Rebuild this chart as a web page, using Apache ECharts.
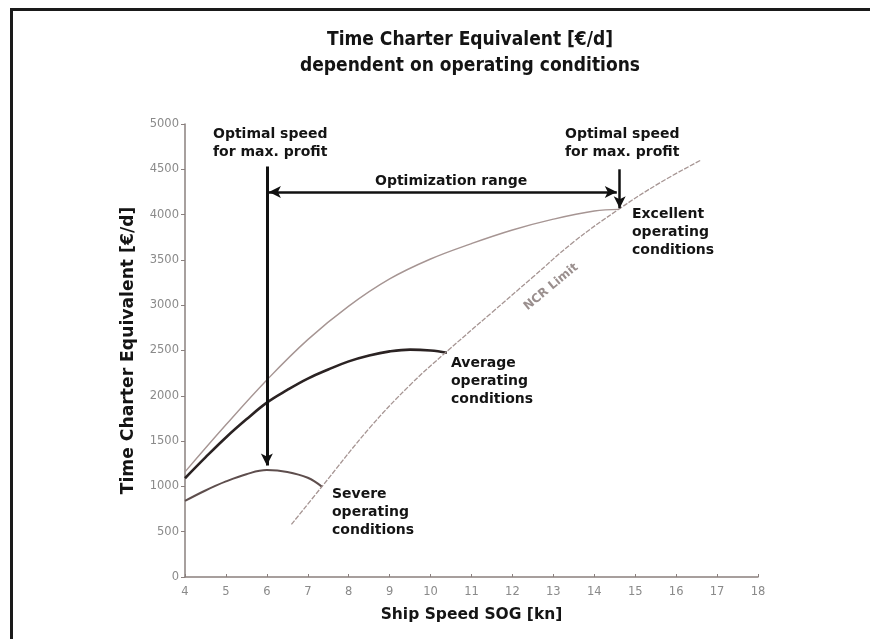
<!DOCTYPE html>
<html>
<head>
<meta charset="utf-8">
<title>Time Charter Equivalent</title>
<script src="https://cdn.jsdelivr.net/npm/echarts@6/dist/echarts.min.js"></script>
<style>
  html, body { margin: 0; padding: 0; background: #fff; }
  #chart { width: 870px; height: 639px; }
</style>
</head>
<body>
<div id="chart"></div>
<script>
// Ship speed over ground [kn] / time charter equivalent [€/d]
const xTicks = [4, 5, 6, 7, 8, 9, 10, 11, 12, 13, 14, 15, 16, 17, 18];
const yTicks = [0, 500, 1000, 1500, 2000, 2500, 3000, 3500, 4000, 4500, 5000];

// Excellent operating conditions
const excellentSpeed = [4, 5, 6, 7, 8, 9, 10, 11, 12, 13, 14, 14.6];
const excellentTce   = [1160, 1680, 2175, 2620, 2990, 3290, 3510, 3680, 3830, 3950, 4040, 4058];

// Average operating conditions
const averageSpeed = [4, 4.5, 5, 5.5, 6, 6.5, 7, 7.5, 8, 8.5, 9, 9.5, 10, 10.4];
const averageTce   = [1090, 1320, 1540, 1740, 1925, 2065, 2190, 2290, 2380, 2445, 2490, 2510, 2500, 2475];

// Severe operating conditions
const severeSpeed = [4, 4.5, 5, 5.5, 6, 6.5, 7, 7.35];
const severeTce   = [840, 955, 1055, 1135, 1180, 1160, 1095, 995];

// NCR limit
const ncrSpeed = [6.6, 7.35, 8.5, 9.5, 10.4, 11.5, 12.5, 13.5, 14.6, 15.6, 16.6];
const ncrTce   = [580, 1000, 1640, 2120, 2490, 2920, 3310, 3700, 4060, 4350, 4600];

// Annotation arrows: [fromSpeed, fromTce, toSpeed, toTce, doubleHeaded]
const arrowLowOptimum  = [6, 4530, 6, 1230, false];
const arrowHighOptimum = [14.62, 4500, 14.62, 4070, false];
const arrowRange       = [6.05, 4250, 14.55, 4250, true];

const zip = (xs, ys) => xs.map((x, i) => [x, ys[i]]);

const labelFont = 'DejaVu Sans';
const textStyle = (extra) => Object.assign({
  fontFamily: labelFont, fontWeight: 'bold', fontSize: 14, fill: '#141414', lineHeight: 18
}, extra || {});

const arrowLine = (a, width) => [
  { coord: [a[0], a[1]], symbol: a[4] ? 'arrow' : 'none' },
  { coord: [a[2], a[3]], symbol: 'arrow', lineStyle: { width: width } }
];

const chart = echarts.init(document.getElementById('chart'), null, { renderer: 'canvas' });

chart.setOption({
  backgroundColor: '#ffffff',
  animation: false,
  title: {
    text: 'Time Charter Equivalent [€/d]\ndependent on operating conditions',
    left: 465,
    top: 22,
    textAlign: 'center',
    textStyle: {
      fontFamily: 'DejaVu Sans Condensed', fontWeight: 'bold', fontSize: 19,
      lineHeight: 26, color: '#141414'
    }
  },
  grid: { left: 185, right: 112, top: 124, bottom: 62, containLabel: false },
  xAxis: {
    type: 'value',
    min: xTicks[0], max: xTicks[xTicks.length - 1], interval: 1,
    name: 'Ship Speed SOG [kn]',
    nameLocation: 'middle',
    nameGap: 30,
    nameTextStyle: { fontFamily: labelFont, fontWeight: 'bold', fontSize: 15.5, color: '#141414' },
    axisLine: { lineStyle: { color: '#8a807e', width: 1.5 } },
    axisTick: { inside: true, length: 3, lineStyle: { color: '#8a807e' } },
    axisLabel: { fontFamily: 'DejaVu Sans', fontSize: 11.5, color: '#8a8a8a', margin: 9 },
    splitLine: { show: false }
  },
  yAxis: {
    type: 'value',
    min: yTicks[0], max: yTicks[yTicks.length - 1], interval: 500,
    name: 'Time Charter Equivalent [€/d]',
    nameLocation: 'middle',
    nameGap: 48,
    nameTextStyle: { fontFamily: labelFont, fontWeight: 'bold', fontSize: 17.2, color: '#141414' },
    axisLine: { show: true, lineStyle: { color: '#8a807e', width: 1.5 } },
    axisTick: { show: true, length: 4, lineStyle: { color: '#8a807e' } },
    axisLabel: {
      fontFamily: 'DejaVu Sans', fontSize: 11.5, color: '#8a8a8a', margin: 6,
      formatter: (v) => String(v)
    },
    splitLine: { show: false }
  },
  series: [
    {
      name: 'Excellent operating conditions', type: 'line', smooth: 0.4, showSymbol: false,
      data: zip(excellentSpeed, excellentTce),
      lineStyle: { color: '#a69593', width: 1.4 }
    },
    {
      name: 'Average operating conditions', type: 'line', smooth: 0.4, showSymbol: false,
      data: zip(averageSpeed, averageTce),
      lineStyle: { color: '#2b2323', width: 2.6 }
    },
    {
      name: 'Severe operating conditions', type: 'line', smooth: 0.4, showSymbol: false,
      data: zip(severeSpeed, severeTce),
      lineStyle: { color: '#5e4e4d', width: 2 }
    },
    {
      name: 'NCR Limit', type: 'line', smooth: 0.4, showSymbol: false,
      data: zip(ncrSpeed, ncrTce),
      lineStyle: { color: '#a69593', width: 1.3, type: [5, 1.5] }
    },
    {
      name: 'arrows', type: 'line', data: [],
      markLine: {
        silent: true,
        animation: false,
        symbolSize: [9, 12],
        label: { show: false },
        lineStyle: { color: '#111111', width: 3, type: 'solid' },
        data: [
          arrowLine(arrowLowOptimum, 3),
          arrowLine(arrowHighOptimum, 2.5),
          arrowLine(arrowRange, 2.5)
        ]
      }
    }
  ],
  graphic: [
    // frame
    { type: 'line', shape: { x1: 11, y1: 9.5, x2: 870, y2: 9.5 }, style: { stroke: '#1a1a1a', lineWidth: 3 } },
    { type: 'line', shape: { x1: 11.5, y1: 8, x2: 11.5, y2: 639 }, style: { stroke: '#1a1a1a', lineWidth: 3 } },
    // annotations
    { type: 'text', left: 213, top: 125, style: textStyle({ text: 'Optimal speed\nfor max. profit' }) },
    { type: 'text', left: 565, top: 125, style: textStyle({ text: 'Optimal speed\nfor max. profit' }) },
    { type: 'text', left: 375, top: 172, style: textStyle({ text: 'Optimization range' }) },
    { type: 'text', left: 632, top: 205, style: textStyle({ text: 'Excellent\noperating\nconditions' }) },
    { type: 'text', left: 451, top: 354, style: textStyle({ text: 'Average\noperating\nconditions' }) },
    { type: 'text', left: 332, top: 485, style: textStyle({ text: 'Severe\noperating\nconditions' }) },
    {
      type: 'text', x: 551, y: 287, rotation: 39.5 * Math.PI / 180,
      style: textStyle({ text: 'NCR Limit', fontSize: 12, fill: '#9a8f8e', align: 'center', verticalAlign: 'middle' })
    }
  ]
});
</script>
</body>
</html>
